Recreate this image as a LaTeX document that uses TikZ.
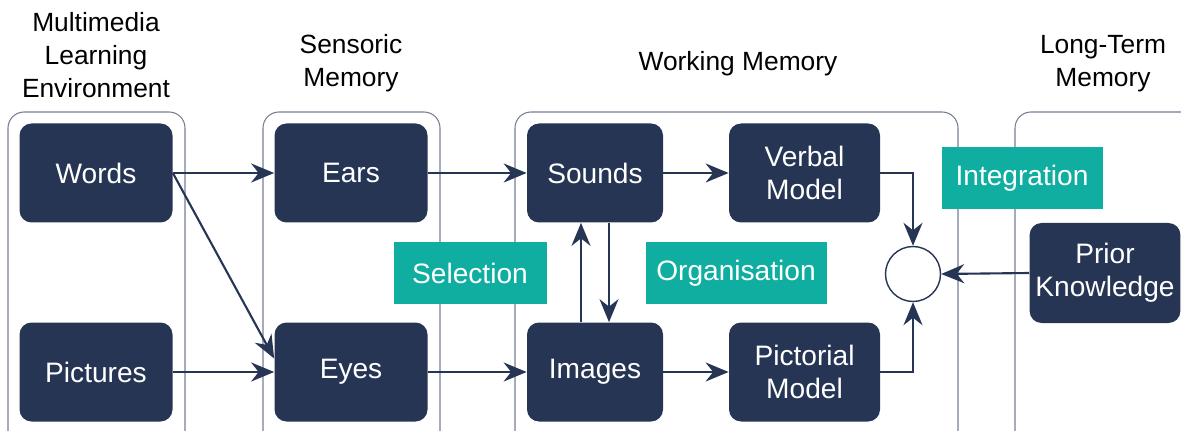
\documentclass[tikz,border=0pt]{standalone}
\usepackage{fontspec}
\setmainfont{Liberation Sans}
\usepackage{tikz}
\usetikzlibrary{arrows.meta}

\definecolor{navy}{RGB}{39,53,85}
\definecolor{tealbox}{RGB}{16,174,160}
\definecolor{framegray}{RGB}{118,126,148}

\begin{document}
\begin{tikzpicture}[
        block/.style={fill=navy, rounded corners=0.24cm, text=white, align=center,
            minimum width=3.06cm, minimum height=1.98cm, font=\fontsize{16}{18.8}\selectfont},
        tag/.style={fill=tealbox, text=white, minimum height=1.22cm, font=\fontsize{16}{18.8}\selectfont},
        head/.style={align=center, font=\fontsize{15}{18.8}\selectfont},
        panel/.style={draw=framegray, line width=0.6pt, rounded corners=0.32cm},
        link/.style={draw=navy, line width=1.2pt, -{Stealth[length=0.46cm,width=0.38cm]}}
    ]
        \useasboundingbox (0,0) rectangle (23.62,8.6);

        % Panels (open at the bottom)
        \begin{scope}
            \clip (0,0) rectangle (23.62,8.6);
            \draw[panel] (0.16,-0.4) rectangle (3.7,6.36);
            \draw[panel] (5.26,-0.4) rectangle (8.8,6.36);
            \draw[panel] (10.3,-0.4) rectangle (19.16,6.36);
            \draw[panel] (20.3,-0.4) rectangle (24.2,6.36);
        \end{scope}

        % Headings
        \node[head] (envhead) at (1.92,7.5) {Multimedia\\Learning\\Environment};
        \node[head] (senshead) at (7.02,7.33) {Sensoric\\Memory};
        \node[head] (workhead) at (14.76,7.32) {Working Memory};
        \node[head] (longhead) at (22.06,7.33) {Long-Term\\Memory};

        % Blocks
        \node[block] (words) at (1.92,5.14) {Words};
        \node[block] (pictures) at (1.92,1.16) {Pictures};
        \node[block] (ears) at (7.02,5.14) {Ears};
        \node[block] (eyes) at (7.02,1.16) {Eyes};
        \node[block, minimum width=2.72cm] (sounds) at (11.9,5.14) {Sounds};
        \node[block, minimum width=2.72cm] (images) at (11.9,1.16) {Images};
        \node[block, minimum width=3.02cm] (verbal) at (16.09,5.14) {Verbal\\Model};
        \node[block, minimum width=3.02cm] (pictorial) at (16.09,1.16) {Pictorial\\Model};
        \node[block, minimum width=3.0cm, minimum height=2.0cm] (prior) at (22.1,3.14) {Prior\\Knowledge};
        \node[circle, draw=navy, fill=white, line width=0.8pt, minimum size=1.1cm] (merge) at (18.26,3.12) {};

        % Process labels
        \node[tag, minimum width=3.06cm] (selection) at (9.4,3.14) {Selection};
        \node[tag, minimum width=3.62cm] (organisation) at (14.72,3.14) {Organisation};
        \node[tag, minimum width=3.22cm, minimum height=1.24cm] (integration) at (20.44,5.04) {Integration};

        % Arrows
        \draw[link] (words.east) -- (ears.west);
        \draw[link] (words.east) -- (eyes.170);
        \draw[link] (pictures.east) -- (eyes.west);
        \draw[link] (ears.east) -- (sounds.west);
        \draw[link] (eyes.east) -- (images.west);
        \draw[link] ([xshift=-0.28cm]images.north) -- ([xshift=-0.28cm]sounds.south);
        \draw[link] ([xshift=0.28cm]sounds.south) -- ([xshift=0.28cm]images.north);
        \draw[link] (sounds.east) -- (verbal.west);
        \draw[link] (images.east) -- (pictorial.west);
        \draw[link] (verbal.east) -| (merge.north);
        \draw[link] (pictorial.east) -| (merge.south);
        \draw[link] (prior.west) -- (merge.east);

    \end{tikzpicture}
\end{document}
